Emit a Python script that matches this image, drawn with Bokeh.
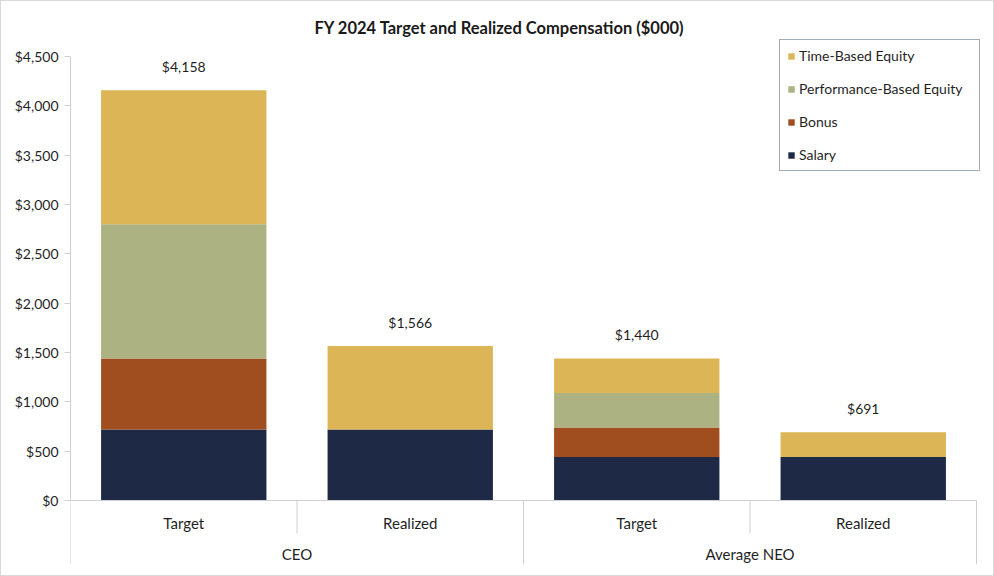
from bokeh.plotting import figure
from bokeh.models import (ColumnDataSource, NumeralTickFormatter, FixedTicker,
                          Legend, LegendItem, Range1d)
from bokeh.embed import file_html
from bokeh.resources import INLINE
from bokeh.core.properties import value

# ---- data ----
groups = ["CEO", "CEO", "Average NEO", "Average NEO"]
kinds = ["Target", "Realized", "Target", "Realized"]
series = ["Salary", "Bonus", "Performance-Based Equity", "Time-Based Equity"]
salary = [720, 720, 440, 440]
bonus = [720, 0, 300, 0]
perf_equity = [1359, 0, 350, 0]
time_equity = [1359, 846, 350, 251]
totals = [4158, 1566, 1440, 691]
total_labels = ["$4,158", "$1,566", "$1,440", "$691"]
y_ticks = [0, 500, 1000, 1500, 2000, 2500, 3000, 3500, 4000, 4500]
colors = ["#1e2a45", "#a04e1f", "#adb283", "#dcb656"]

FONT = "Lato"
TXT = "#1f1f1f"
GRID = "#d0d0d0"

W, H = 994, 576
BL, BR, BT, BB = 69, 9, 37, 13
frame_h = H - BT - BB
frame_w = W - BL - BR
PLOT_W = 906                      # pixel width of the category area
LONG_PX, SHORT_PX = 64, 33
PX_4500 = 444                     # pixel height from $0 to $4,500
units_per_px = y_ticks[-1] / PX_4500
Y_BOT = -LONG_PX * units_per_px
Y_TOP = Y_BOT + frame_h * units_per_px

n = len(kinds)
xs = [i + 0.5 for i in range(n)]
X_END = n * frame_w / PLOT_W

src = ColumnDataSource(dict(x=xs, s0=salary, s1=bonus, s2=perf_equity,
                            s3=time_equity, tot=totals, lab=total_labels,
                            kind=kinds))

p = figure(width=W, height=H, output_backend="svg", toolbar_location=None,
           x_range=Range1d(0, X_END), y_range=Range1d(Y_BOT, Y_TOP),
           min_border_left=BL, min_border_right=BR, min_border_top=BT,
           min_border_bottom=BB)

rs = p.vbar_stack(["s0", "s1", "s2", "s3"], x="x", width=0.73, source=src,
                  color=colors, line_color=None)

# totals above bars
p.text(x="x", y="tot", text="lab", source=src, text_align="center",
       text_baseline="bottom", y_offset=-15, text_font=value(FONT),
       text_font_size="14px", text_color=TXT)

# category labels (inner level)
p.text(x="x", y=0, text="kind", source=src, text_align="center",
       text_baseline="middle", y_offset=22, text_font=value(FONT),
       text_font_size="15px", text_color=TXT)

# group labels (outer level)
g_names, g_x = [], []
i = 0
while i < n:
    j = i
    while j < n and groups[j] == groups[i]:
        j += 1
    g_names.append(groups[i])
    g_x.append((i + j) / 2)
    i = j
p.text(x=g_x, y=[0] * len(g_x), text=g_names, text_align="center",
       text_baseline="middle", y_offset=53, text_font=value(FONT),
       text_font_size="15px", text_color=TXT)

# x axis baseline and separators
p.segment(x0=[0], y0=[0], x1=[n], y1=[0], line_color=GRID, line_width=1)
sep_x, sep_y1 = [], []
for b in range(n + 1):
    is_long = b == 0 or b == n or groups[b] != groups[b - 1]
    sep_x.append(b)
    sep_y1.append(Y_BOT if is_long else -SHORT_PX * units_per_px)
p.segment(x0=sep_x, y0=[0] * len(sep_x), x1=sep_x, y1=sep_y1,
          line_color=GRID, line_width=1)

# title
p.title.text = "FY 2024 Target and Realized Compensation ($000)"
p.title.align = "left"
p.title.offset = 244
p.title.standoff = 2
p.title.text_font = FONT
p.title.text_font_size = "16.5px"
p.title.text_font_style = "bold"
p.title.text_color = "#1a1a1a"

p.xgrid.visible = False
p.ygrid.visible = False
p.outline_line_color = None
p.xaxis.visible = False

ya = p.yaxis[0]
ya.ticker = FixedTicker(ticks=y_ticks)
ya.bounds = (y_ticks[0], y_ticks[-1])
ya.formatter = NumeralTickFormatter(format="$0,0")
ya.axis_line_color = GRID
ya.major_tick_line_color = GRID
ya.major_tick_in = 0
ya.major_tick_out = 6
ya.minor_tick_line_color = None
ya.major_label_text_font = FONT
ya.major_label_text_font_size = "14px"
ya.major_label_text_color = TXT
ya.major_label_standoff = 6

PAD = 7
LEG_H = PAD * 2 + 17 * 4 + 16 * 3
legend = Legend(items=[LegendItem(label=series[k], renderers=[rs[k]])
                       for k in [3, 2, 1, 0]],
                location=(709, frame_h - (40 - BT) - LEG_H))
legend.label_text_font = FONT
legend.label_text_font_size = "14px"
legend.label_text_color = TXT
legend.glyph_width = 8
legend.glyph_height = 8
legend.label_height = 17
legend.label_width = 173
legend.spacing = 16
legend.padding = PAD
legend.margin = 0
legend.label_standoff = 4
legend.border_line_color = "#3d5a7a"
legend.border_line_width = 1
p.add_layout(legend, "center")

p.styles = {"border": "1px solid #d9d9d9"}

open("out.html", "w").write(file_html(p, INLINE))
